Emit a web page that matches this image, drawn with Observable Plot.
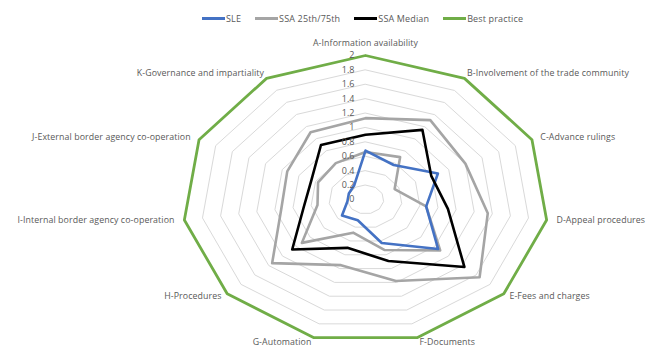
<!DOCTYPE html>
<html>
<head>
<meta charset="utf-8">
<script src="https://cdn.jsdelivr.net/npm/d3@7"></script>
<script src="https://cdn.jsdelivr.net/npm/@observablehq/plot@0.6"></script>
<style>
  html, body { margin: 0; padding: 0; background: #fff; }
  body { width: 647px; height: 347px; overflow: hidden; font-family: "Open Sans", sans-serif; }
  #legend { height: 30px; position: relative; }
  #legend .items { position: absolute; left: 202px; top: 12px; display: flex; align-items: center; font-size: 9px; color: #595959; white-space: nowrap; letter-spacing: 0.15px; }
  #legend .item { display: flex; align-items: center; margin-right: 14px; }
  #legend .sw { width: 23px; height: 2.5px; margin-right: 1px; }
  #chart svg { display: block; }
  #chart svg .axlab text { letter-spacing: 0.1px; }
</style>
</head>
<body>
<div id="legend"><div class="items"></div></div>
<div id="chart"></div>
<script>
const categories = [
  "A-Information availability",
  "B-Involvement of the trade community",
  "C-Advance rulings",
  "D-Appeal procedures",
  "E-Fees and charges",
  "F-Documents",
  "G-Automation",
  "H-Procedures",
  "I-Internal border agency co-operation",
  "J-External border agency co-operation",
  "K-Governance and impartiality"
];
const sle      = [0.68, 0.57, 0.87, 0.67, 1.05, 0.63, 0.30, 0.34, 0.20, 0.20, 0.23];
const ssa25    = [0.66, 0.70, 0.35, 0.67, 1.08, 0.73, 0.48, 0.92, 0.53, 0.57, 0.60];
const ssa75    = [1.13, 1.31, 1.20, 1.35, 1.65, 1.18, 0.95, 1.35, 0.93, 0.94, 1.11];
const median   = [0.90, 1.15, 0.79, 0.91, 1.43, 0.89, 0.70, 1.06, 0.68, 0.65, 0.90];
const best     = [2, 2, 2, 2, 2, 2, 2, 2, 2, 2, 2];
const tickValues = [0, 0.2, 0.4, 0.6, 0.8, 1, 1.2, 1.4, 1.6, 1.8, 2];
const tickLabels = ["0", "0.2", "0.4", "0.6", "0.8", "1", "1.2", "1.4", "1.6", "1.8", "2"];
const legendNames = ["SLE", "SSA 25th/75th", "SSA Median", "Best practice"];
const legendColors = ["#4472c4", "#a5a5a5", "#000000", "#70ad47"];

const n = categories.length;
const ang = i => 2 * Math.PI * i / n;
const pt = (v, i) => ({x: v * Math.sin(ang(i)), y: v * Math.cos(ang(i))});
const poly = (vals, key) => vals.map((v, i) => ({...pt(v, i), key}));

// legend
const items = d3.select("#legend .items");
legendNames.forEach((name, i) => {
  const it = items.append("div").attr("class", "item");
  it.append("span").attr("class", "sw").style("background", legendColors[i]);
  it.append("span").text(name);
});

// grid levels
const gridRows = tickValues.filter(v => v > 0 && v < 2).flatMap(v => categories.map((c, i) => ({...pt(v, i), level: v})));

// axis label placement derived from angle
const Rx = 183, Ry = 144;
const labelRows = categories.map((c, i) => {
  const p = pt(2, i);
  const px = Math.sin(ang(i)) * Rx, py = -Math.cos(ang(i)) * Ry;
  const L = Math.hypot(px, py);
  const ux = px / L, uy = py / L;
  const dx = 10 * ux * ux * ux + (Math.abs(ux) < 0.5 ? 2 * Math.sign(ux) : 0);
  const dy = uy < 0 ? -2 - 10 * Math.pow(uy, 4) : 4.5 * uy;
  const anchor = Math.abs(ux) < 0.05 ? "middle" : (ux > 0 ? "start" : "end");
  return {...p, label: c, dx, dy, anchor};
});

const tickRows = tickValues.map((v, i) => ({x: 0, y: v, label: tickLabels[i]}));

const textFill = "#595959";

const cx = 365, cy = 169;
const chart = Plot.plot({
  width: 647,
  height: 317,
  margin: 0,
  style: {fontFamily: "'Open Sans', sans-serif", background: "#fff"},
  x: {domain: [-2, 2], range: [cx - Rx, cx + Rx], axis: null},
  y: {domain: [-2, 2], range: [cy + Ry, cy - Ry], axis: null},
  marks: [
    Plot.line(gridRows, {x: "x", y: "y", z: "level", stroke: "#d9d9d9", strokeWidth: 1, curve: "linear-closed"}),
    Plot.line(poly(ssa75, "75"), {x: "x", y: "y", stroke: "#a5a5a5", strokeWidth: 2.6, curve: "linear-closed", strokeLinejoin: "round"}),
    Plot.line(poly(ssa25, "25"), {x: "x", y: "y", stroke: "#a5a5a5", strokeWidth: 2.6, curve: "linear-closed", strokeLinejoin: "round"}),
    Plot.line(poly(sle, "sle"), {x: "x", y: "y", stroke: "#4472c4", strokeWidth: 2.6, curve: "linear-closed", strokeLinejoin: "round"}),
    Plot.line(poly(median, "med"), {x: "x", y: "y", stroke: "#000000", strokeWidth: 2.6, curve: "linear-closed", strokeLinejoin: "round"}),
    Plot.line(poly(best, "best"), {x: "x", y: "y", stroke: "#70ad47", strokeWidth: 2.8, curve: "linear-closed", strokeLinejoin: "round"}),
    Plot.text(tickRows, {x: "x", y: "y", text: "label", textAnchor: "end", dx: -11, fill: textFill, fontSize: 9}),
    ...labelRows.map(d => Plot.text([d], {x: "x", y: "y", text: "label", textAnchor: d.anchor, dx: d.dx, dy: d.dy, fill: textFill, fontSize: 8.8, className: "axlab"}))
  ]
});
document.getElementById("chart").appendChild(chart);
</script>
</body>
</html>
